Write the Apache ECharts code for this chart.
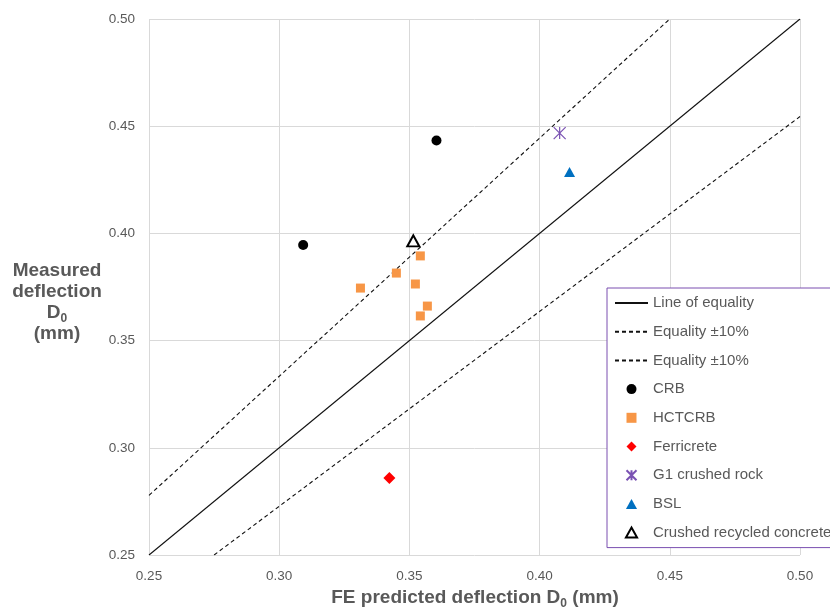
<!DOCTYPE html>
<html>
<head>
<meta charset="utf-8">
<script src="https://cdn.jsdelivr.net/npm/echarts@6/dist/echarts.min.js"></script>
<style>
  html, body { margin: 0; padding: 0; background: #ffffff; }
  #chart { width: 830px; height: 612px; }
</style>
</head>
<body>
<div id="chart"></div>
<script>
// Axis ticks (mm)
const axisMin = 0.25;
const axisMax = 0.50;
const axisStep = 0.05;

// Reference lines: [predicted, measured] end points
const equalityLine = [[0.25, 0.25], [0.50, 0.50]];
const upperTenPct = [[0.25, 0.2778], [0.45, 0.50]];
const lowerTenPct = [[0.275, 0.25], [0.50, 0.4545]];

// Material groups: FE predicted D0 (x) and measured D0 (y), mm
const crbPred = [0.3092, 0.3604];
const crbMeas = [0.3946, 0.4433];

const hctcrbPred = [0.3312, 0.3450, 0.3542, 0.3523, 0.3569, 0.3542];
const hctcrbMeas = [0.3745, 0.3815, 0.3895, 0.3764, 0.3661, 0.3615];

const ferricretePred = [0.3423];
const ferricreteMeas = [0.2859];

const g1Pred = [0.4077];
const g1Meas = [0.4468];

const bslPred = [0.4115];
const bslMeas = [0.4286];

const recycledPred = [0.3515];
const recycledMeas = [0.3965];

const pairs = (xs, ys) => xs.map((x, i) => [x, ys[i]]);

const textGrey = '#595959';
const gridGrey = '#d9d9d9';
const regular = '"Liberation Sans", Arial, sans-serif';

// Marker outlines shared by plot and legend
const squarePath = 'path://M0,0h10v10h-10z';
const diamondPath = 'path://M5,0L10,5L5,10L0,5z';
const trianglePath = 'path://M5,0L10,9L0,9z';
const asteriskPath = 'path://M0,0L12,12M12,0L0,12M6,0L6,12';

const chart = echarts.init(document.getElementById('chart'), null, { renderer: 'canvas' });

const valueAxis = () => ({
  type: 'value',
  min: axisMin,
  max: axisMax,
  interval: axisStep,
  axisLine: { show: false },
  axisTick: { show: false },
  splitLine: { show: true, lineStyle: { color: gridGrey, width: 1 } },
  axisLabel: {
    color: textGrey,
    fontFamily: regular,
    fontSize: 13.5,
    margin: 14,
    formatter: (v) => v.toFixed(2)
  }
});

const lineSeries = (name, data, type) => ({
  name,
  type: 'line',
  data,
  symbol: 'none',
  silent: true,
  z: 2,
  itemStyle: { color: 'rgba(0,0,0,0)', borderWidth: 0 },
  lineStyle: { color: '#111111', width: 1.1, type }
});

const option = {
  animation: false,
  backgroundColor: '#ffffff',
  grid: { left: 149, right: 30, top: 19, bottom: 57, containLabel: false },
  xAxis: valueAxis(),
  yAxis: valueAxis(),
  legend: {
    orient: 'vertical',
    left: 607,
    top: 288,
    padding: [5, 40, 5, 7],
    itemWidth: 33,
    itemHeight: 10,
    itemGap: 8.7,
    backgroundColor: '#ffffff',
    borderColor: '#7a4fb0',
    borderWidth: 1,
    borderRadius: 0,
    selectedMode: false,
    textStyle: { color: textGrey, fontFamily: regular, fontSize: 15, lineHeight: 20 },
    data: [
      'Line of equality',
      'Equality ±10%',
      'Equality ±10% ',
      'CRB',
      { name: 'HCTCRB', icon: 'path://M0,0h9v9h-9z' },
      { name: 'Ferricrete', icon: diamondPath },
      'G1 crushed rock',
      { name: 'BSL', icon: trianglePath },
      { name: 'Crushed recycled concrete', icon: trianglePath }
    ]
  },
  graphic: [
    {
      type: 'text',
      x: 475,
      y: 585,
      style: {
        text: '{b|FE predicted deflection D}{s|0}{b| (mm)}',
        align: 'center',
        rich: {
          b: { fontFamily: regular, fontWeight: 'bold', fontSize: 19, fill: textGrey, lineHeight: 22, verticalAlign: 'bottom' },
          s: { fontFamily: regular, fontWeight: 'bold', fontSize: 12, fill: textGrey, lineHeight: 22, verticalAlign: 'bottom', padding: [0, 0, -3, 0] }
        }
      }
    },
    {
      type: 'text',
      x: 57,
      y: 259,
      style: {
        text: '{b|Measured}\n{b|deflection}\n{b|D}{s|0}\n{b|(mm)}',
        align: 'center',
        rich: {
          b: { fontFamily: regular, fontWeight: 'bold', fontSize: 19, fill: textGrey, lineHeight: 21, verticalAlign: 'bottom' },
          s: { fontFamily: regular, fontWeight: 'bold', fontSize: 12, fill: textGrey, lineHeight: 21, verticalAlign: 'bottom', padding: [0, 0, -3, 0] }
        }
      }
    }
  ],
  series: [
    lineSeries('Line of equality', equalityLine, 'solid'),
    lineSeries('Equality ±10%', upperTenPct, [4, 3]),
    lineSeries('Equality ±10% ', lowerTenPct, [4, 3]),
    {
      name: 'CRB', type: 'scatter', z: 5,
      data: pairs(crbPred, crbMeas),
      symbol: 'circle', symbolSize: 10,
      itemStyle: { color: '#000000', opacity: 1 }
    },
    {
      name: 'HCTCRB', type: 'scatter', z: 5,
      data: pairs(hctcrbPred, hctcrbMeas),
      symbol: squarePath, symbolSize: 9,
      itemStyle: { color: '#f79646', opacity: 1 }
    },
    {
      name: 'Ferricrete', type: 'scatter', z: 5,
      data: pairs(ferricretePred, ferricreteMeas),
      symbol: diamondPath, symbolSize: 12,
      itemStyle: { color: '#ff0000', opacity: 1 }
    },
    {
      name: 'G1 crushed rock', type: 'scatter', z: 5,
      data: pairs(g1Pred, g1Meas),
      symbol: asteriskPath, symbolSize: 12,
      itemStyle: { color: 'rgba(0,0,0,0)', borderColor: '#7a52b3', borderWidth: 1.2, opacity: 1 }
    },
    {
      name: 'BSL', type: 'scatter', z: 5,
      data: pairs(bslPred, bslMeas),
      symbol: trianglePath, symbolSize: [11, 10],
      itemStyle: { color: '#0070c0', opacity: 1 }
    },
    {
      name: 'Crushed recycled concrete', type: 'scatter', z: 6,
      data: pairs(recycledPred, recycledMeas),
      symbol: trianglePath, symbolSize: [12, 11],
      itemStyle: { color: '#ffffff', borderColor: '#000000', borderWidth: 2, opacity: 1 }
    }
  ]
};

chart.setOption(option);
</script>
</body>
</html>
